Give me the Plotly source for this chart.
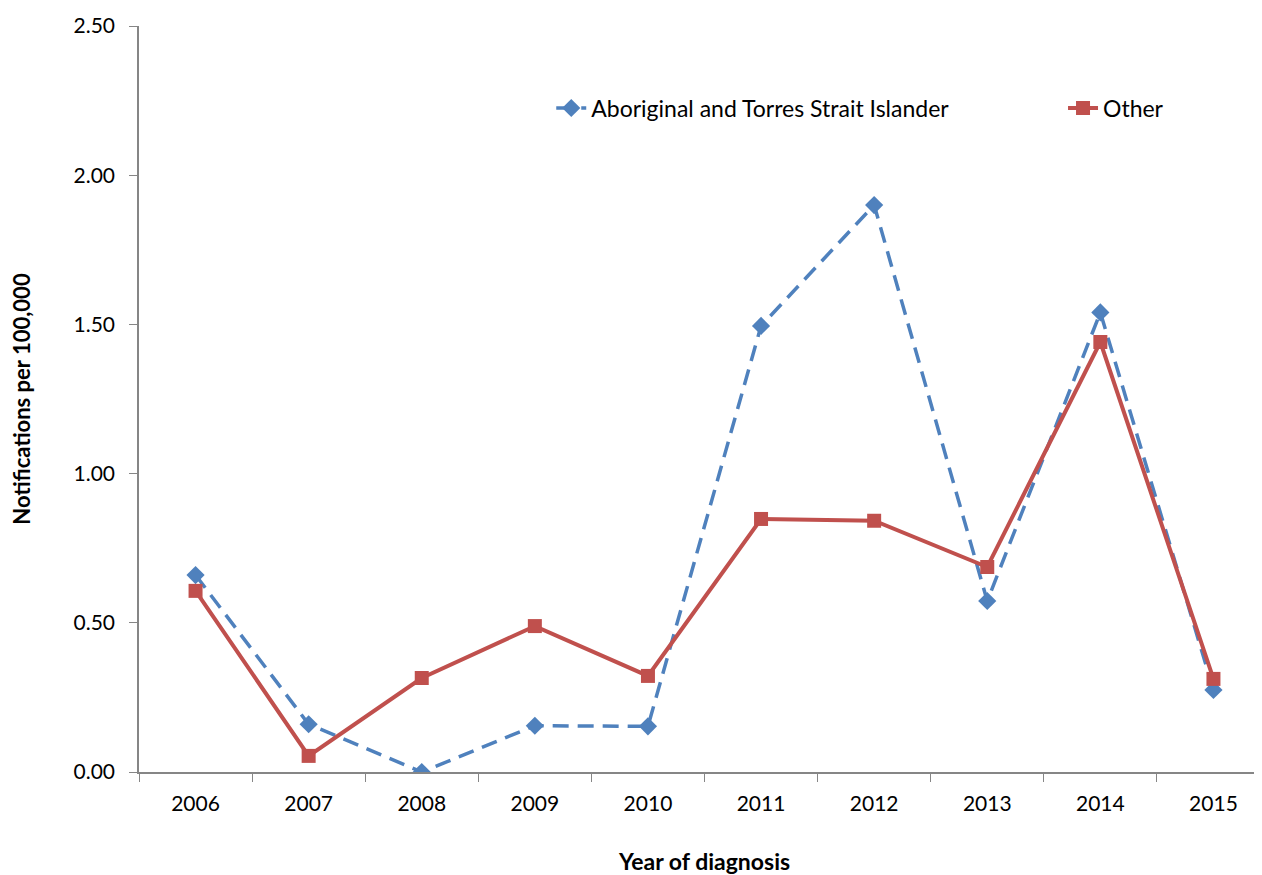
import plotly.graph_objects as go

years = ["2006", "2007", "2008", "2009", "2010", "2011", "2012", "2013", "2014", "2015"]
aboriginal = [0.66, 0.16, 0.00, 0.155, 0.153, 1.495, 1.90, 0.573, 1.54, 0.275]
other = [0.607, 0.054, 0.315, 0.489, 0.322, 0.848, 0.842, 0.687, 1.441, 0.312]
y_ticks = [0, 0.5, 1.0, 1.5, 2.0, 2.5]

FONT = "Lato"
fig = go.Figure()
fig.add_trace(go.Scatter(
    x=years, y=aboriginal, name="Aboriginal and Torres Strait Islander",
    mode="lines+markers", legend="legend",
    line=dict(color="#4F81BD", width=3.5, dash="16px,9px"),
    marker=dict(symbol="diamond", size=14, color="#4F81BD"),
))
fig.add_trace(go.Scatter(
    x=years, y=other, name="Other",
    mode="lines+markers", legend="legend2",
    line=dict(color="#C0504D", width=4),
    marker=dict(symbol="square", size=14, color="#C0504D"),
))

fig.update_layout(
    width=1262, height=875,
    margin=dict(l=131, r=0, t=18, b=111, autoexpand=False),
    paper_bgcolor="white", plot_bgcolor="white",
    font=dict(family=FONT, size=21, color="black"),
    showlegend=True,
    legend=dict(orientation="h", x=0.3645, y=0.89, xanchor="left", yanchor="middle",
                font=dict(size=23), bgcolor="rgba(0,0,0,0)"),
    legend2=dict(orientation="h", x=0.817, y=0.89, xanchor="left", yanchor="middle",
                 font=dict(size=23), bgcolor="rgba(0,0,0,0)"),
    xaxis=dict(type="category", range=[-0.5, 9.5], showgrid=False, automargin=False,
               showline=True, linecolor="#868686", linewidth=1.5,
               ticks="outside", tickson="boundaries", ticklen=8, tickcolor="#868686",
               ticklabelstandoff=12,
               title=dict(text="<b>Year of diagnosis</b>", font=dict(size=23), standoff=40),
               zeroline=False),
    yaxis=dict(range=[0, 2.5], tickvals=y_ticks, tickformat=".2f", showgrid=False,
               automargin=False,
               showline=True, linecolor="#868686", linewidth=1.5,
               ticks="outside", ticklen=8, tickcolor="#868686",
               ticklabelstandoff=10,
               title=dict(text="<b>Notifications per 100,000</b>", font=dict(size=22), standoff=47),
               zeroline=False),
)
fig.write_html("out.html")
